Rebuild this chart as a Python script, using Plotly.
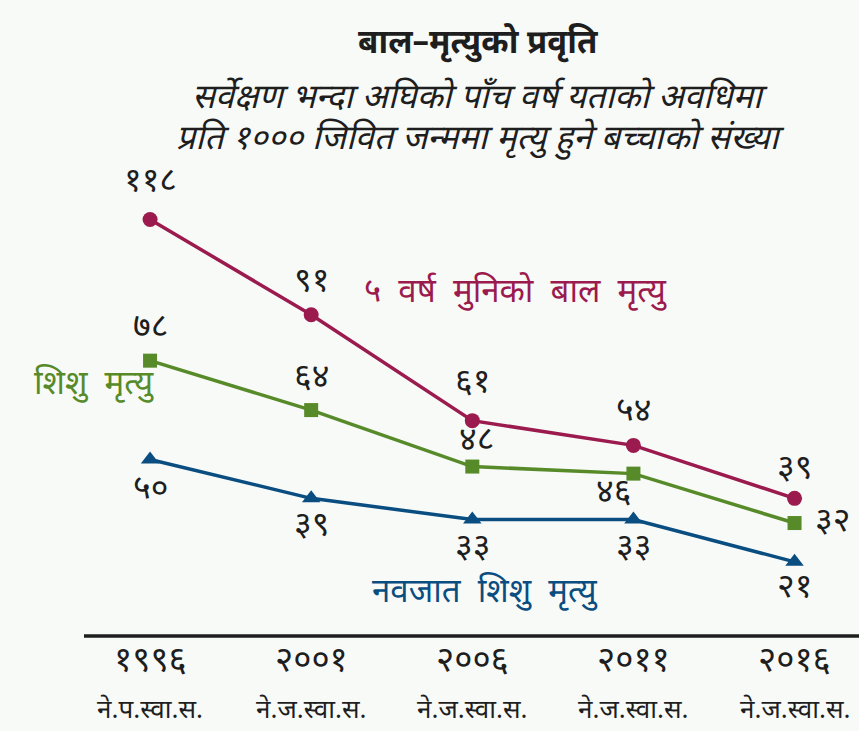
import plotly.graph_objects as go

years = ["1996", "2001", "2006", "2011", "2016"]
surveys = ["ने.प.स्वा.स.", "ने.ज.स्वा.स.", "ने.ज.स्वा.स.", "ने.ज.स्वा.स.", "ने.ज.स्वा.स."]
under5 = [118, 91, 61, 54, 39]
infant = [78, 64, 48, 46, 32]
neonatal = [50, 39, 33, 33, 21]

title = "बाल–मृत्युको प्रवृति"
subtitle1 = "सर्वेक्षण भन्दा अघिको पाँच वर्ष यताको अवधिमा"
subtitle2 = "प्रति 1000 जिवित जन्ममा मृत्यु हुने बच्चाको संख्या"
name_u5 = "५ वर्ष मुनिको बाल मृत्यु"
name_inf = "शिशु मृत्यु"
name_neo = "नवजात शिशु मृत्यु"

DEV = str.maketrans("0123456789", "०१२३४५६७८९")
def dev(v):
    return str(v).translate(DEV)

C_U5 = "#9b1b4f"
C_INF = "#578a28"
C_NEO = "#0a4d80"
BG = "#f8faf8"
TXT = "#1e1e1e"
FONT = "Noto Sans Devanagari, Noto Sans, sans-serif"

x = list(range(len(years)))

fig = go.Figure()
fig.add_trace(go.Scatter(x=x, y=under5, mode="lines+markers",
                         line=dict(color=C_U5, width=3.5),
                         marker=dict(symbol="circle", size=15, color=C_U5)))
fig.add_trace(go.Scatter(x=x, y=infant, mode="lines+markers",
                         line=dict(color=C_INF, width=3.5),
                         marker=dict(symbol="square", size=14, color=C_INF)))
fig.add_trace(go.Scatter(x=x, y=neonatal, mode="lines+markers",
                         line=dict(color=C_NEO, width=3.5),
                         marker=dict(symbol="triangle-up", size=16, color=C_NEO)))

# value label offsets (pixels)
off_u5 = [(0, 36), (0, 32), (0, 37), (0, 32), (0, 28)]
off_inf = [(0, 32), (0, 31), (4, 25), (-20, -20), (38, 0)]
off_neo = [(0, -31), (0, -29), (0, -29), (0, -29), (0, -27)]

ann = []
for series, offs in ((under5, off_u5), (infant, off_inf), (neonatal, off_neo)):
    for i, v in enumerate(series):
        ann.append(dict(x=i, y=v, xref="x", yref="y", text=dev(v), showarrow=False,
                        xshift=offs[i][0], yshift=offs[i][1],
                        font=dict(size=34, color=TXT, family=FONT)))

NB = "\u00a0"
def spaced(s):
    return s.replace(" ", NB + NB)

# series labels
ann.append(dict(x=2.27, y=97, xref="x", yref="y", text=spaced(name_u5), showarrow=False,
                font=dict(size=33, color=C_U5, family=FONT)))
ann.append(dict(x=-0.35, y=71, xref="x", yref="y", text=spaced(name_inf), showarrow=False,
                font=dict(size=33, color=C_INF, family=FONT)))
ann.append(dict(x=2.08, y=12, xref="x", yref="y", text=spaced(name_neo), showarrow=False,
                font=dict(size=33, color=C_NEO, family=FONT)))

# x tick labels
for i in x:
    ann.append(dict(x=i, y=662, xref="x", yref="paper", text=dev(years[i]), showarrow=False,
                    font=dict(size=35, color=TXT, family=FONT)))
for i in x:
    ann.append(dict(x=i, y=711, xref="x", yref="paper", text=surveys[i], showarrow=False,
                    font=dict(size=26, color=TXT, family=FONT)))

# titles
ann.append(dict(x=478, y=45, xref="paper", yref="paper", text="<b>" + title + "</b>", showarrow=False,
                font=dict(size=33, color=TXT, family=FONT)))
ann.append(dict(x=480, y=100, xref="paper", yref="paper", text="<i>" + subtitle1 + "</i>", showarrow=False,
                font=dict(size=34, color=TXT, family=FONT)))
ann.append(dict(x=480, y=140, xref="paper", yref="paper", text="<i>" + subtitle2.translate(DEV) + "</i>", showarrow=False,
                font=dict(size=34, color=TXT, family=FONT)))

W, H = 859, 731
ML, MR, MT, MB = 84, 0, 150, 95
pw, ph = W - ML - MR, H - MT - MB

for a in ann:
    a["xanchor"] = "center"
    a["yanchor"] = "middle"
    if a["yref"] == "paper":
        a["y"] = (H - MB - a["y"]) / ph
    if a["xref"] == "paper":
        a["x"] = (a["x"] - ML) / pw

fig.update_layout(
    width=W, height=H,
    margin=dict(l=ML, r=MR, t=MT, b=MB),
    paper_bgcolor=BG, plot_bgcolor=BG,
    showlegend=False,
    annotations=ann,
    xaxis=dict(range=[-0.41, 4.4], showgrid=False, zeroline=False, showticklabels=False,
               showline=False, fixedrange=True),
    yaxis=dict(range=[0, ph / 3.53], showgrid=False, zeroline=False, showticklabels=False,
               showline=False, fixedrange=True),
    shapes=[dict(type="line", xref="paper", yref="paper", x0=0, x1=1, y0=0, y1=0,
                 line=dict(color=TXT, width=3.5))],
)

fig.write_html("out.html", config={"displayModeBar": False},
               post_script="document.body.style.margin='0';document.body.style.background='" + BG + "';")
